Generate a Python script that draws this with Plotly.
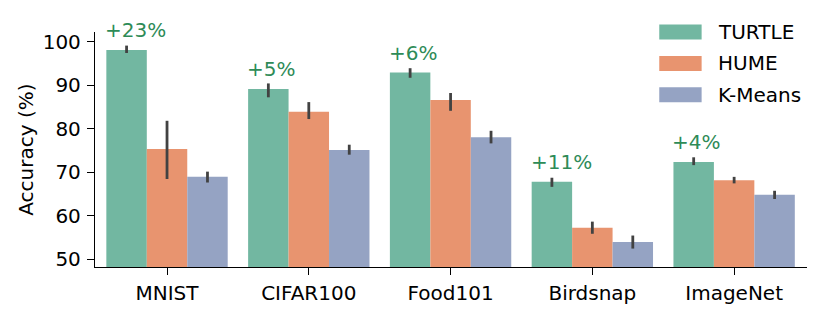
import plotly.graph_objects as go

categories = ["MNIST", "CIFAR100", "Food101", "Birdsnap", "ImageNet"]
series_names = ["TURTLE", "HUME", "K-Means"]
turtle = [98.1, 89.1, 92.9, 67.8, 72.3]
turtle_hi = [99.1, 90.4, 93.9, 68.7, 73.4]
turtle_lo = [97.4, 87.2, 91.7, 66.6, 71.6]
hume = [75.3, 83.9, 86.6, 57.2, 68.1]
hume_hi = [81.8, 86.1, 88.2, 58.6, 68.9]
hume_lo = [68.4, 82.2, 84.1, 55.8, 67.4]
kmeans = [68.9, 75.1, 78.0, 53.9, 64.8]
kmeans_hi = [70.1, 76.3, 79.5, 55.4, 65.7]
kmeans_lo = [67.6, 74.0, 76.6, 52.4, 63.8]
gains = ["+23%", "+5%", "+6%", "+11%", "+4%"]
y_ticks = [50, 60, 70, 80, 90, 100]

colors = ["#72b7a1", "#e8946f", "#95a3c3"]
FONT = "DejaVu Sans"
FS = 20
GROUP_W = 0.856

fig = go.Figure()
for name, vals, hi, lo, col in zip(
    series_names, [turtle, hume, kmeans], [turtle_hi, hume_hi, kmeans_hi],
    [turtle_lo, hume_lo, kmeans_lo], colors):
    fig.add_trace(go.Bar(
        x=categories, y=vals, name=name, marker_color=col,
        marker_line_width=0,
        error_y=dict(type="data", symmetric=False,
                     array=[h - v for h, v in zip(hi, vals)],
                     arrayminus=[v - l for v, l in zip(vals, lo)],
                     color="#424242", thickness=2.8, width=0),
        showlegend=False,
    ))

for i, (g, v) in enumerate(zip(gains, turtle)):
    fig.add_annotation(x=i - GROUP_W / 2, y=v, xref="x", yref="y", text=g,
                       showarrow=False, xanchor="left", yanchor="bottom",
                       xshift=-3, yshift=6,
                       font=dict(family=FONT, size=FS, color="#2e8b57"))

# custom legend (matplotlib-style wide patches)
leg_y = [1.0, 0.866, 0.733]
for name, col, ly in zip(series_names, colors, leg_y):
    fig.add_shape(type="rect", xref="paper", yref="paper",
                  x0=0.7925, x1=0.852, y0=ly - 0.032, y1=ly + 0.032,
                  fillcolor=col, line_width=0)
    fig.add_annotation(xref="paper", yref="paper", x=0.876, y=ly, text=name,
                       showarrow=False, xanchor="left", yanchor="middle",
                       xshift=-3,
                       font=dict(family=FONT, size=FS, color="black"))

# y-axis title as rotated annotation
fig.add_annotation(xref="paper", yref="paper", x=-0.098, y=0.5,
                   text="Accuracy (%)", textangle=-90, showarrow=False,
                   xanchor="center", yanchor="middle",
                   font=dict(family=FONT, size=FS, color="black"))

# page body adds an 8px offset; margins compensate for it
fig.update_layout(
    width=831, height=319,
    margin=dict(l=87, r=32, t=24, b=60),
    plot_bgcolor="white", paper_bgcolor="white",
    barmode="group", bargap=1 - GROUP_W, bargroupgap=0,
    font=dict(family=FONT, size=FS, color="black"),
)
fig.update_xaxes(range=[-0.508, 4.514], showline=True, linecolor="black",
                 linewidth=1.3, ticks="outside", ticklen=7, tickwidth=1.3,
                 tickcolor="black", showgrid=False, zeroline=False,
                 automargin=False, ticklabelstandoff=1,
                 tickfont=dict(family=FONT, size=FS, color="black"))
fig.update_yaxes(range=[48.16, 102.23], tickvals=y_ticks,
                 showline=True, linecolor="black", linewidth=1.3,
                 ticks="outside", ticklen=7, tickwidth=1.3, tickcolor="black",
                 showgrid=False, zeroline=False, automargin=False,
                 ticklabelstandoff=2,
                 tickfont=dict(family=FONT, size=FS, color="black"))

fig.write_html("out.html")
